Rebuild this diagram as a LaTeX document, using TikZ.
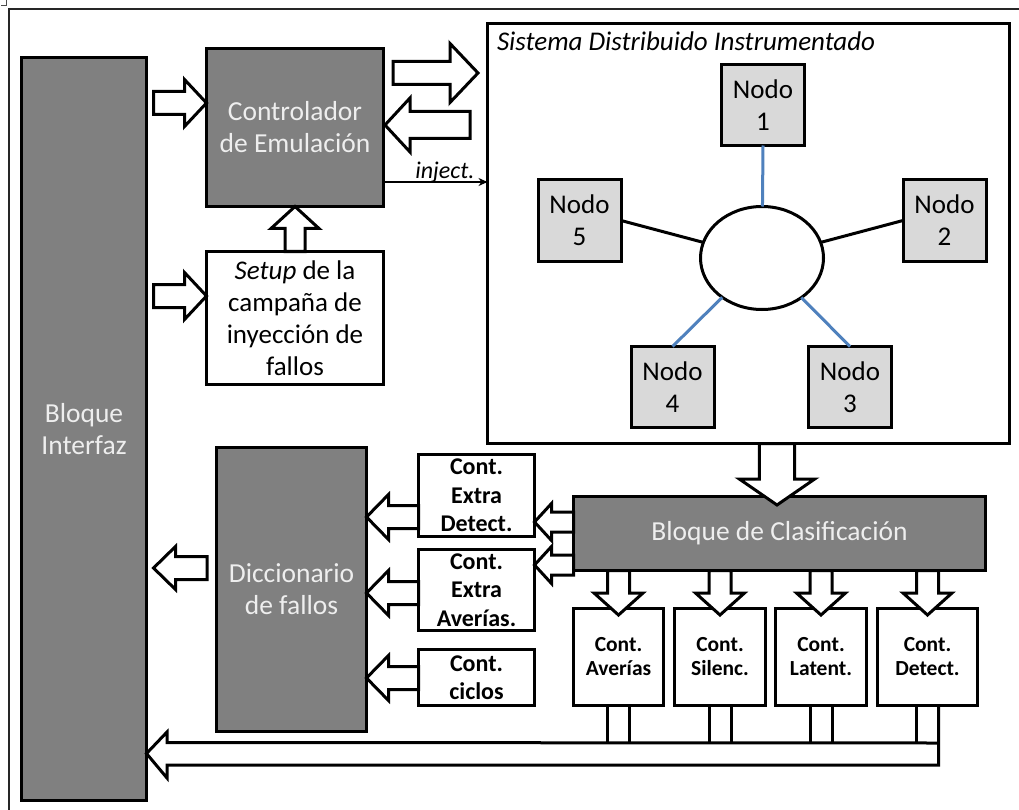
\documentclass[tikz,border=0pt]{standalone}
\usepackage{fontspec}
\setmainfont{Carlito}
\usetikzlibrary{calc,shapes.geometric,arrows.meta}

\definecolor{boxgray}{RGB}{128,128,128}
\definecolor{nodegray}{RGB}{217,217,217}
\definecolor{linkblue}{RGB}{79,129,189}
\definecolor{lighttext}{RGB}{238,238,238}

\tikzset{
  every node/.style={outer sep=0pt, inner sep=0pt},
  darkbox/.style={draw=black, line width=3pt, fill=boxgray, text=lighttext,
    align=center, font=\fontsize{27.5}{32}\selectfont},
  whitebox/.style={draw=black, line width=3pt, fill=white,
    align=center, font=\fontsize{27}{32}\selectfont},
  netnode/.style={draw=black, line width=3pt, fill=nodegray, minimum width=83pt,
    minimum height=81pt, align=center, font=\fontsize{27}{32}\selectfont},
  counter/.style={whitebox, font=\bfseries\fontsize{24}{28.5}\selectfont,
    minimum width=116pt},
  smallcounter/.style={whitebox, font=\bfseries\fontsize{21.5}{24}\selectfont,
    minimum height=97pt},
  blockarr/.style={draw=black, fill=white, line width=3pt, line join=miter},
  busline/.style={draw=black, line width=3pt, line join=miter},
  link/.style={line width=3pt},
}

% hollow block arrow: tail, tip, shaft half-width, head half-width, head length
\newcommand\blockarrow[5]{%
  \coordinate (ba-base) at ($(#2)!#5!(#1)$);
  \draw[blockarr] ($(#1)!#3!90:(#2)$) -- ($(ba-base)!#3!90:(#2)$)
    -- ($(ba-base)!#4!90:(#2)$) -- (#2) -- ($(ba-base)!#4!-90:(#2)$)
    -- ($(ba-base)!#3!-90:(#2)$) -- ($(#1)!#3!-90:(#2)$) -- cycle;
}

\begin{document}
\begin{tikzpicture}[x=1pt, y=-1pt]
\useasboundingbox (0,0) rectangle (1019,810);

% outer frame
\draw[line width=1.5pt, black!85] (9,810) -- (9,9) -- (1019,9);
\draw[line width=1pt, black!70] (1,5.5) -- (6,5.5) -- (6,0);

% blocks on the left
\node[darkbox, minimum width=125pt, minimum height=743pt] (iface) at (84,429) {Bloque\\Interfaz};
\node[darkbox, minimum width=177pt, minimum height=158pt] (ctrl) at (295,127.5) {Controlador\\de Emulación};
\node[whitebox, minimum width=177pt, minimum height=133pt] (setup) at (295,318)
  {\textit{Setup} de la\\campaña de\\inyección de\\fallos};
\node[darkbox, minimum width=150pt, minimum height=284pt] (dicc) at (291.5,589.5) {Diccionario\\de fallos};

% instrumented distributed system
\node[draw=black, line width=3pt, fill=white, minimum width=522pt, minimum height=420pt] (sys) at (748.5,233.5) {};
\node[anchor=base west, font=\itshape\fontsize{27}{32}\selectfont] (systitle) at (497,51)
  {Sistema Distribuido Instrumentado};
\node[ellipse, draw=black, line width=3pt, fill=white, minimum width=123pt, minimum height=103pt] (hub) at (762,258) {};
\node[netnode] (n1) at (763,105) {Nodo\\1};
\node[netnode] (n2) at (944.5,220.5) {Nodo\\2};
\node[netnode] (n3) at (850,387) {Nodo\\3};
\node[netnode] (n4) at (672.5,387) {Nodo\\4};
\node[netnode] (n5) at (579.5,220.5) {Nodo\\5};
\draw[link, linkblue] (n1.south) -- (hub);
\draw[link, linkblue] (n3.north) -- (hub);
\draw[link, linkblue] (n4.north) -- (hub);
\draw[link, black] (n2.west) -- (hub);
\draw[link, black] (n5.east) -- (hub);

% classification and counters
\node[darkbox, minimum width=412pt, minimum height=74pt] (clasif) at (779.5,533.5) {Bloque de Clasificación};
\node[counter, minimum height=82pt] (xdet) at (476.5,495.5) {Cont.\\Extra\\Detect.};
\node[counter, minimum height=81pt] (xave) at (476.5,590) {Cont.\\Extra\\Averías.};
\node[counter, minimum height=56pt] (ciclos) at (476.5,677.5) {Cont.\\ciclos};
\node[smallcounter, minimum width=90pt] (cave) at (618.5,657) {Cont.\\Averías};
\node[smallcounter, minimum width=91pt] (csil) at (720,657) {Cont.\\Silenc.};
\node[smallcounter, minimum width=91pt] (clat) at (821,657) {Cont.\\Latent.};
\node[smallcounter, minimum width=100pt] (cdet) at (927.5,657) {Cont.\\Detect.};

% interface -> controller and setup
\coordinate (i2c-tip) at ($(ctrl.west)+(0,-24.5)$);
\coordinate (i2c-tail) at ($(iface.east |- i2c-tip)+(7,0)$);
\blockarrow{i2c-tail}{i2c-tip}{11.5pt}{23.5pt}{22pt}
\coordinate (i2s-tip) at ($(setup.west)+(0,-22)$);
\coordinate (i2s-tail) at ($(iface.east |- i2s-tip)+(7,0)$);
\blockarrow{i2s-tail}{i2s-tip}{11.5pt}{23.5pt}{22pt}

% setup -> controller
\blockarrow{setup.north}{ctrl.south}{10pt}{24pt}{22pt}

% controller <-> system
\coordinate (c2s-tail) at ($(ctrl.east)+(9.5,-54.5)$);
\coordinate (c2s-tip) at ($(sys.west |- c2s-tail)+(-9.5,0)$);
\blockarrow{c2s-tail}{c2s-tip}{11.5pt}{29.5pt}{28pt}
\coordinate (s2c-tip) at ($(ctrl.east)+(1.5,-2.5)$);
\coordinate (s2c-tail) at ($(sys.west |- s2c-tip)+(-17.5,0)$);
\blockarrow{s2c-tail}{s2c-tip}{13.5pt}{27pt}{25pt}

% inject signal
\coordinate (inj-start) at ($(ctrl.east)+(0,54.5)$);
\coordinate (inj-end) at (sys.west |- inj-start);
\draw[line width=2.2pt, -{Stealth[length=9pt, width=8pt]}] (inj-start) -- (inj-end)
  node[pos=1, anchor=base east, xshift=-13pt, yshift=3pt, font=\itshape\fontsize{24}{28}\selectfont] (injlabel) {inject.};

% dictionary -> interface
\coordinate (d2i-tip) at ($(iface.east)+(7,139)$);
\coordinate (d2i-tail) at ($(dicc.west |- d2i-tip)+(-9.5,0)$);
\blockarrow{d2i-tail}{d2i-tip}{11.5pt}{21.5pt}{22pt}

% extra counters -> dictionary
\coordinate (xd-tail) at ($(xdet.west)+(0,21.5)$);
\coordinate (xd-tip) at (dicc.east |- xd-tail);
\blockarrow{xd-tail}{xd-tip}{11.5pt}{22.5pt}{22pt}
\coordinate (xa-tail) at ($(xave.west)+(0,3)$);
\coordinate (xa-tip) at (dicc.east |- xa-tail);
\blockarrow{xa-tail}{xa-tip}{11.5pt}{22.5pt}{22pt}
\coordinate (cc-tail) at ($(ciclos.west)+(0,0.5)$);
\coordinate (cc-tip) at (dicc.east |- cc-tail);
\blockarrow{cc-tail}{cc-tip}{11.5pt}{22.5pt}{22pt}

% classification -> extra counters
\coordinate (cx1-tail) at ($(clasif.west)+(0,-11.5)$);
\coordinate (cx1-tip) at (xdet.east |- cx1-tail);
\blockarrow{cx1-tail}{cx1-tip}{10pt}{18.5pt}{17pt}
\coordinate (cx2-tail) at ($(clasif.west)+(0,31.5)$);
\coordinate (cx2-tip) at (xave.east |- cx2-tail);
\blockarrow{cx2-tail}{cx2-tip}{10pt}{18.5pt}{17pt}

% system -> classification
\coordinate (s2k-tip) at ($(clasif.north)+(-2.5,8.5)$);
\coordinate (s2k-tail) at (s2k-tip |- sys.south);
\blockarrow{s2k-tail}{s2k-tip}{17.6pt}{37.7pt}{26pt}

% classification -> counters
\foreach \c in {cave,csil,clat,cdet}{
  \coordinate (k-tip) at ($(\c.north)+(0,6.5)$);
  \coordinate (k-tail) at (k-tip |- clasif.south);
  \blockarrow{k-tail}{k-tip}{11pt}{24.5pt}{22pt}
}

% counters -> interface bus
\coordinate (bus-tip) at ($(iface.east)+(0,324.5)$);
\coordinate (bus-end) at ($(cdet.south)+(11,0)$);
\draw[busline] (bus-end) -- ++(0,59.5) -- ($(bus-tip)+(20.5,11.5)$) -- ++(0,13)
  -- (bus-tip) -- ($(bus-tip)+(20.5,-21.5)$) -- ++(0,10.5) -- (bus-end |- 0,743);
\foreach \c in {cave,csil,clat}{
  \draw[busline] ($(\c.south)+(-11,0)$) -- ($(\c.south)+(-11,37.5)$);
  \draw[busline] ($(\c.south)+(11,0)$) -- ($(\c.south)+(11,37.5)$);
}
\draw[busline] ($(cdet.south)+(-11,0)$) -- ($(cdet.south)+(-11,37.5)$);
\end{tikzpicture}
\end{document}
